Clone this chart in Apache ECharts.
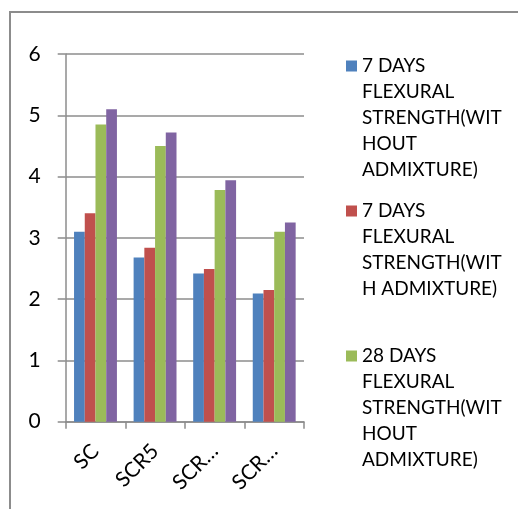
<!DOCTYPE html>
<html>
<head>
<meta charset="utf-8">
<script src="https://cdn.jsdelivr.net/npm/echarts@6/dist/echarts.min.js"></script>
<style>
  html, body { margin: 0; padding: 0; background: #ffffff; }
  #chart { width: 518px; height: 509px; }
</style>
</head>
<body>
<div id="chart"></div>
<script>
// Mix designations along the x axis
const categories = ['SC', 'SCR5', 'SCR…', 'SCR…'];

// Flexural strength (N/mm²)
const days7Without = [3.1, 2.68, 2.42, 2.09];
const days7With = [3.4, 2.84, 2.49, 2.15];
const days28Without = [4.85, 4.5, 3.78, 3.1];
const days28With = [5.1, 4.72, 3.94, 3.25];

const seriesNames = [
  '7 DAYS FLEXURAL STRENGTH(WITHOUT ADMIXTURE)',
  '7 DAYS FLEXURAL STRENGTH(WITH ADMIXTURE)',
  '28 DAYS FLEXURAL STRENGTH(WITHOUT ADMIXTURE)',
  '28 DAYS FLEXURAL STRENGTH(WITH ADMIXTURE)'
];

// Legend labels as they wrap in the legend column
const legendLines = [
  ['7 DAYS', 'FLEXURAL', 'STRENGTH(WIT', 'HOUT', 'ADMIXTURE)'],
  ['7 DAYS', 'FLEXURAL', 'STRENGTH(WIT', 'H ADMIXTURE)', ' '],
  ['28 DAYS', 'FLEXURAL', 'STRENGTH(WIT', 'HOUT', 'ADMIXTURE)']
];

const colors = ['#4F81BD', '#C0504D', '#9BBB59', '#8064A2'];
const values = [days7Without, days7With, days28Without, days28With];

const FONT = 'Lato, "Open Sans", sans-serif';
const LINE_H = 26;
const ITEM_H = LINE_H * 5;

// Square marker sitting beside the first line of each wrapped legend label
const legendIcon = 'path://M0,0 M11,0 M0,7.5h11v11h-11z M0,' + ITEM_H;

const chart = echarts.init(document.getElementById('chart'), null, { renderer: 'canvas' });

chart.setOption({
  backgroundColor: '#ffffff',
  animation: false,
  color: colors,
  textStyle: { fontFamily: FONT },
  grid: { left: 65.7, right: 214, top: 54, bottom: 87.3, containLabel: false },
  legend: {
    orient: 'vertical',
    left: 346,
    top: 53,
    padding: 0,
    itemGap: 15,
    itemWidth: 11,
    itemHeight: ITEM_H,
    icon: legendIcon,
    selectedMode: false,
    data: seriesNames.slice(0, 3),
    formatter: function (name) {
      return legendLines[seriesNames.indexOf(name)].join('\n');
    },
    textStyle: { fontFamily: FONT, fontSize: 19, color: '#000', lineHeight: LINE_H }
  },
  xAxis: {
    type: 'category',
    data: categories,
    axisLine: { lineStyle: { color: '#8c8c8c', width: 1.5 } },
    axisTick: { show: true, length: 7, lineStyle: { color: '#8c8c8c', width: 1.5 } },
    axisLabel: {
      interval: 0,
      rotate: 45,
      margin: 26,
      color: '#000',
      fontFamily: FONT,
      fontSize: 21
    }
  },
  yAxis: {
    type: 'value',
    min: 0,
    max: 6,
    interval: 1,
    axisLine: { show: true, lineStyle: { color: '#8c8c8c', width: 1.5 } },
    axisTick: { show: true, length: 8, lineStyle: { color: '#8c8c8c', width: 1.5 } },
    splitLine: { show: true, lineStyle: { color: '#8c8c8c', width: 1.5 } },
    axisLabel: { margin: 25, color: '#000', fontFamily: FONT, fontSize: 21 }
  },
  graphic: [{
    type: 'polyline',
    silent: true,
    shape: { points: [[10, 509], [10, 12], [518, 12]] },
    style: { stroke: '#8c8c8c', lineWidth: 2, fill: null }
  }],
  series: values.map(function (arr, i) {
    return {
      name: seriesNames[i],
      type: 'bar',
      data: arr,
      barGap: '0%',
      barCategoryGap: '28%',
      itemStyle: { color: colors[i] }
    };
  })
});
</script>
</body>
</html>
